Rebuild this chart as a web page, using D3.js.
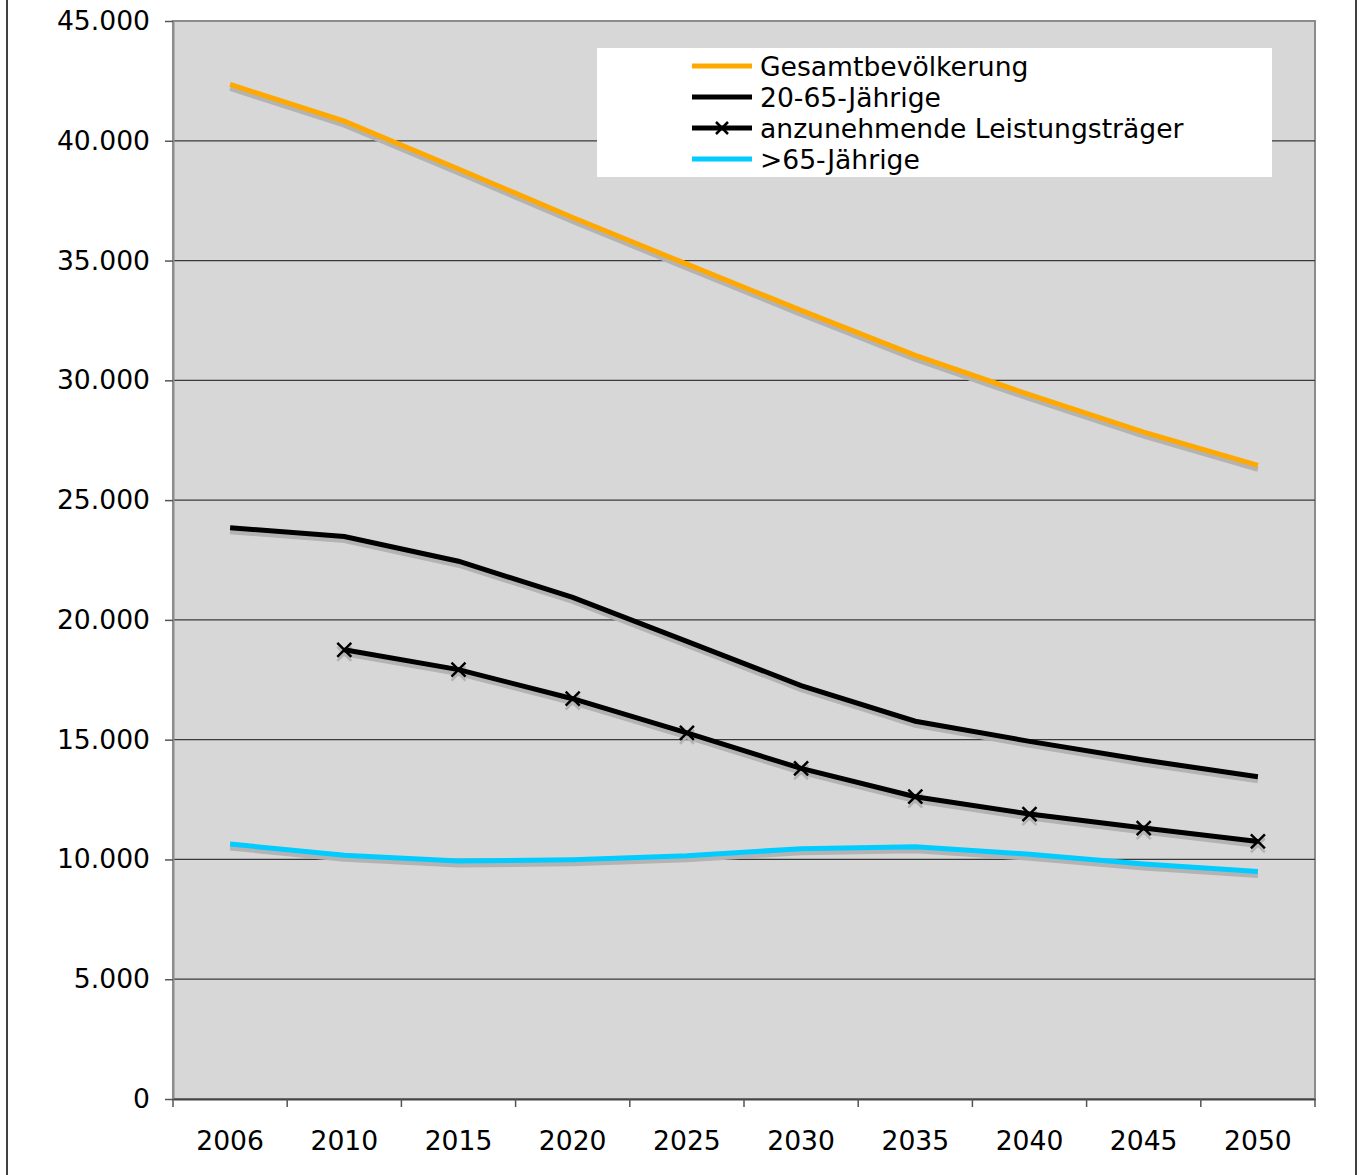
<!DOCTYPE html>
<html>
<head>
<meta charset="utf-8">
<script src="https://cdn.jsdelivr.net/npm/d3@7"></script>
<style>
  body { margin: 0; background: #fff; }
  svg { display: block; font-family: "DejaVu Sans", Verdana, sans-serif; }
</style>
</head>
<body>
<div id="chart"></div>
<script>
// Jahre (Kategorien)
const years = ["2006", "2010", "2015", "2020", "2025", "2030", "2035", "2040", "2045", "2050"];

// Werte in Tausend
const gesamt = [42350, 40820, 38820, 36800, 34850, 32920, 31040, 29400, 27840, 26450];
const erwerb = [23850, 23480, 22450, 20940, 19100, 17260, 15770, 14930, 14150, 13455];
const leistung = [null, 18750, 17925, 16710, 15280, 13800, 12620, 11895, 11310, 10750];
const senioren = [10640, 10180, 9930, 9990, 10150, 10450, 10530, 10220, 9810, 9500];

const yTicks = [0, 5000, 10000, 15000, 20000, 25000, 30000, 35000, 40000, 45000];

const seriesNames = ["Gesamtbevölkerung", "20-65-Jährige", "anzunehmende Leistungsträger", ">65-Jährige"];

const COLORS = {
    orange: "#ffa800",
    black: "#000000",
    cyan: "#00ccff",
    shadow: "#b3b3b3",
    plot: "#d7d7d7",
};

const series = [
    { name: seriesNames[0], values: gesamt, color: COLORS.orange, marker: false },
    { name: seriesNames[1], values: erwerb, color: COLORS.black, marker: false },
    { name: seriesNames[2], values: leistung, color: COLORS.black, marker: true },
    { name: seriesNames[3], values: senioren, color: COLORS.cyan, marker: false },
];

const svgWidth = 1359;
const svgHeight = 1175;
const fontSize = "26.6px";

const margin = { top: 21, right: 44, bottom: 76, left: 173 };

const svg = d3.select("#chart").append("svg")
    .attr("width", svgWidth)
    .attr("height", svgHeight);

// Rahmen links und rechts
svg.append("line").attr("x1", 7).attr("x2", 7).attr("y1", 0).attr("y2", svgHeight)
    .attr("stroke", "#000").attr("stroke-width", 1.5);
svg.append("line").attr("x1", 1356).attr("x2", 1356).attr("y1", 0).attr("y2", svgHeight)
    .attr("stroke", "#000").attr("stroke-width", 1.5);

const x = d3.scaleBand()
    .domain(years)
    .range([margin.left, svgWidth - margin.right])
    .padding(0);

const y = d3.scaleLinear()
    .domain([0, 45000])
    .range([svgHeight - margin.bottom, margin.top]);

const cx = d => x(d) + x.bandwidth() / 2;

// Zeichenfläche
svg.append("rect")
    .attr("x", x.range()[0])
    .attr("y", y(45000))
    .attr("width", x.range()[1] - x.range()[0])
    .attr("height", y(0) - y(45000))
    .attr("fill", COLORS.plot)
    .attr("stroke", "#8c8c8c")
    .attr("stroke-width", 2);

// Gitterlinien
svg.append("g")
    .selectAll("line")
    .data(yTicks.filter(d => d > 0 && d < 45000))
    .join("line")
    .attr("x1", x.range()[0])
    .attr("x2", x.range()[1])
    .attr("y1", d => y(d))
    .attr("y2", d => y(d))
    .attr("stroke", "#3a3a3a")
    .attr("stroke-width", 1.3);

// y-Achse
const fmt = d => d3.format(",")(d).replace(/,/g, ".");
svg.append("g")
    .attr("transform", `translate(${margin.left},0)`)
    .call(d3.axisLeft(y).tickValues(yTicks).tickFormat(fmt).tickSize(8).tickPadding(15).tickSizeOuter(0))
    .call(g => g.select(".domain").attr("stroke", "#8c8c8c").attr("stroke-width", 2))
    .call(g => g.selectAll(".tick line").attr("stroke", "#555").attr("stroke-width", 1.5))
    .call(g => g.selectAll("text").style("font-size", fontSize).attr("fill", "#000")
        .style("font-family", "'DejaVu Sans', Verdana, sans-serif"));

// x-Achse
const xAxisG = svg.append("g")
    .attr("transform", `translate(0,${y(0)})`)
    .call(d3.axisBottom(x).tickSize(0).tickPadding(32).tickSizeOuter(0))
    .call(g => g.select(".domain").attr("stroke", "#444").attr("stroke-width", 2))
    .call(g => g.selectAll("text").style("font-size", fontSize).attr("fill", "#000")
        .style("font-family", "'DejaVu Sans', Verdana, sans-serif"));

xAxisG.selectAll(".bound")
    .data(years.map(d => x(d)).concat([x.range()[1]]))
    .join("line")
    .attr("class", "bound")
    .attr("x1", d => d).attr("x2", d => d)
    .attr("y1", 0).attr("y2", 8)
    .attr("stroke", "#555")
    .attr("stroke-width", 1.5);

// Linien
const line = d3.line()
    .defined(d => d.v != null)
    .x(d => cx(d.year))
    .y(d => y(d.v));

const asPoints = s => years.map((yr, i) => ({ year: yr, v: s.values[i] }));

const xMark = (g, px, py, r, color) => {
    g.append("path")
        .attr("d", `M${px - r},${py - r}L${px + r},${py + r}M${px - r},${py + r}L${px + r},${py - r}`)
        .attr("stroke", color)
        .attr("stroke-width", 2.5)
        .attr("fill", "none");
};

// Schatten
const shadowG = svg.append("g").attr("transform", "translate(0,4)");
series.forEach(s => {
    shadowG.append("path")
        .datum(asPoints(s))
        .attr("d", line)
        .attr("fill", "none")
        .attr("stroke", COLORS.shadow)
        .attr("stroke-width", 5);
    if (s.marker) {
        asPoints(s).filter(d => d.v != null).forEach(d => xMark(shadowG, cx(d.year), y(d.v), 7, COLORS.shadow));
    }
});

const linesG = svg.append("g");
series.forEach(s => {
    linesG.append("path")
        .datum(asPoints(s))
        .attr("d", line)
        .attr("fill", "none")
        .attr("stroke", s.color)
        .attr("stroke-width", 5);
    if (s.marker) {
        asPoints(s).filter(d => d.v != null).forEach(d => xMark(linesG, cx(d.year), y(d.v), 7, s.color));
    }
});

// Legende
const legend = svg.append("g");
legend.append("rect")
    .attr("x", 597).attr("y", 48)
    .attr("width", 675).attr("height", 129)
    .attr("fill", "#fff");

series.forEach((s, i) => {
    const ly = 66 + i * 31;
    legend.append("line")
        .attr("x1", 692).attr("x2", 752)
        .attr("y1", ly).attr("y2", ly)
        .attr("stroke", s.color)
        .attr("stroke-width", 5);
    if (s.marker) xMark(legend, 722, ly, 6, s.color);
    legend.append("text")
        .attr("x", 760)
        .attr("y", ly)
        .attr("dy", "0.36em")
        .style("font-size", fontSize)
        .text(s.name);
});
</script>
</body>
</html>
